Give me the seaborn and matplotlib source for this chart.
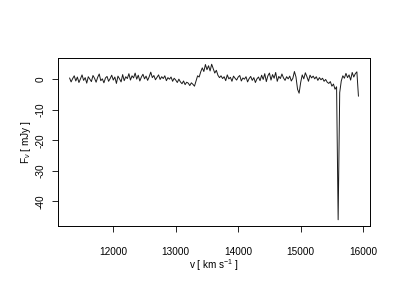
import numpy as np
import pandas as pd
import matplotlib
matplotlib.use("Agg")
import matplotlib.pyplot as plt
import seaborn as sns

# velocity grid (km/s) and flux density (mJy)
v_start = 11300
v_step = 25
flux_a = [0.5, -0.8, 0.3, 1.2, -0.5, 0.8, -1.0, 0.2, 1.5, -0.3, 0.6, -1.2, 0.9, 0.1, -0.7,
          1.3, 0.4, -0.9, 0.7, 1.8, -0.4, 0.2, -1.1, 0.5, 1.0, -0.6, 0.3, 1.4, -0.2]
flux_b = [0.8, -1.3, 1.1, 0.2, -0.8, 1.6, -0.4, 0.9, 0.3, 1.9, -0.2, 1.2, 0.5, 2.1, 0.1,
          1.4, -0.5, 0.8, 1.7, 0.2, 1.1, -0.3, 0.9, 2.4, 0.6, 1.3, -0.1, 0.7, 1.5, 0.0,
          0.9, 0.3, 1.2, -0.4, 0.6, 0.1, 0.8, -0.6, 0.4]
flux_c = [-0.2, -1.0, 0.1, -0.8, -1.4, -0.5, -1.7, -0.9, -1.2, -2.0, -1.1, -1.6, -2.2]
flux_d = [-0.5, 1.2, 0.8, 2.5, 3.8, 2.6, 4.9, 3.2, 4.5, 2.8, 5.0, 3.6, 2.1, 3.0, 1.4, 0.6]
flux_e = [1.2, 0.3, 0.9, -0.4, 1.5, 0.2, 0.7, -0.6, 1.1, 0.4, -0.2, 0.8, 1.3, -0.5, 0.5,
          0.1, 0.9, -0.8, 0.3, 1.0, -0.3, 0.6, -1.0, 0.2, 0.8, -0.4, 1.4, 0.0, 1.9, -0.7,
          1.2, 2.1, -0.2, 1.6, 0.4, 2.3, -0.6, 1.0, 0.3, 1.8, 0.5, -0.3, 0.9, 0.2, 1.1,
          -0.5, 0.4, 2.6]
flux_f = [0.8, -3.2, -4.5, -1.0, 1.5, 0.2]
flux_g = [2.2, 0.9, -0.6, 1.4, 0.5, 1.1, 0.2, 0.9, -0.3, 0.6, -0.1, 0.4, -0.6, 0.0, -0.9,
          -1.3, -0.7, -2.2, -1.5]
flux_h = [-3.2, -2.4, -46.0, -4.3, -0.5, 1.2, 0.4, 2.0, 0.6, 1.5, -0.2, 2.3, 0.8, 1.9,
          2.5, -5.5]

flux = flux_a + flux_b + flux_c + flux_d + flux_e + flux_f + flux_g + flux_h
velocity = [v_start + v_step * i for i in range(len(flux))]

x_ticks = [12000, 13000, 14000, 15000, 16000]
y_ticks = [0, -10, -20, -30, -40]

df = pd.DataFrame({"v": velocity, "F": flux})

sns.set_style("white")
plt.rcParams["font.family"] = ["Liberation Sans", "DejaVu Sans"]
plt.rcParams["mathtext.fontset"] = "custom"
plt.rcParams["mathtext.rm"] = "Liberation Sans"
plt.rcParams["mathtext.it"] = "Liberation Sans:italic"
plt.rcParams["text.color"] = "black"
plt.rcParams["axes.labelcolor"] = "black"
plt.rcParams["xtick.color"] = "black"
plt.rcParams["ytick.color"] = "black"

fig = plt.figure(figsize=(4, 3), dpi=100)
ax = fig.add_axes([0.145, 0.2467, 0.78, 0.56])
sns.lineplot(data=df, x="v", y="F", ax=ax, color="#1a1a1a", linewidth=0.7)

vr = max(velocity) - min(velocity)
fr = max(flux) - min(flux)
ax.set_xlim(min(velocity) - 0.04 * vr, max(velocity) + 0.04 * vr)
ax.set_ylim(min(flux) - 0.04 * fr, max(flux) + 0.04 * fr)

ax.set_xticks(x_ticks)
ax.set_yticks(y_ticks)
ax.set_xticklabels([str(t) for t in x_ticks])
ax.set_yticklabels([str(t) for t in y_ticks], rotation=90, va="center")
ax.tick_params(axis="both", direction="out", length=4, width=0.6, color="black",
               labelcolor="black", labelsize=7.2, bottom=True, left=True)
ax.tick_params(axis="x", pad=11)
ax.tick_params(axis="y", pad=5)
for s in ax.spines.values():
    s.set_visible(True)
    s.set_color("black")
    s.set_linewidth(0.7)

ax.set_xlabel(r"v [ km s$^{-1}$ ]", fontsize=7.2, labelpad=0, color="black")
ax.set_ylabel(r"F$_{\nu}$ [ mJy ]", fontsize=7.2, labelpad=2, color="black")

fig.savefig("out.png", dpi=100)
